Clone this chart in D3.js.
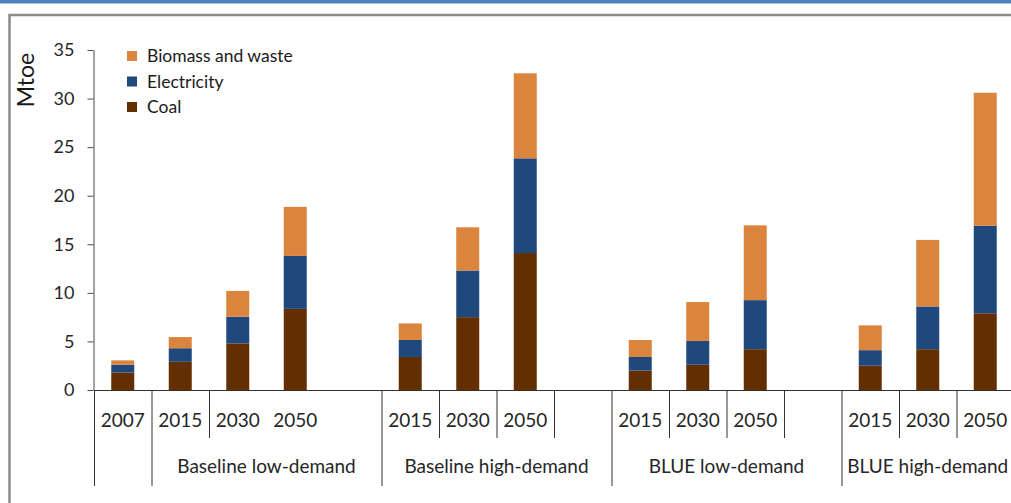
<!DOCTYPE html>
<html>
<head>
<meta charset="utf-8">
<script src="https://cdn.jsdelivr.net/npm/d3@7"></script>
<style>
  body { margin: 0; background: #fff; }
  svg { display: block; font-family: Lato, "Open Sans", sans-serif; }
</style>
</head>
<body>
<div id="chart"></div>
<script>
// one slot per column, blank slots separate the scenario groups
const slotYears = ["2007", "2015", "2030", "2050", "", "2015", "2030", "2050", "", "2015", "2030", "2050", "", "2015", "2030", "2050"];
const coal        = [1.8, 2.9, 4.8, 8.35, 0, 3.4, 7.5, 14.1, 0, 2.0, 2.6, 4.2, 0, 2.5, 4.2, 7.9];
const electricity = [0.8, 1.4, 2.75, 5.45, 0, 1.75, 4.8, 9.75, 0, 1.4, 2.45, 5.05, 0, 1.6, 4.4, 9.0];
const biomass     = [0.45, 1.15, 2.65, 5.05, 0, 1.7, 4.45, 8.75, 0, 1.75, 4.0, 7.7, 0, 2.55, 6.85, 13.7];

const seriesNames = ["Coal", "Electricity", "Biomass and waste"];
const seriesColors = ["#632f00", "#1f497d", "#db843d"];

const groupNames = ["", "Baseline low-demand", "Baseline high-demand", "BLUE low-demand", "BLUE high-demand"];
const groupStarts = [0, 1, 5, 9, 13];
const groupEnds = [1, 5, 9, 13, 16];
// inner boundaries that carry a short divider line
const shortDividers = [2, 6, 7, 8, 10, 11, 12, 14, 15];

const yTicks = [0, 5, 10, 15, 20, 25, 30, 35];

const svgWidth = 1011;
const svgHeight = 503;

const svg = d3.select("#chart").append("svg")
    .attr("width", svgWidth)
    .attr("height", svgHeight);

// page decorations: blue rule and grey frame
svg.append("rect")
    .attr("x", 0).attr("y", 0)
    .attr("width", svgWidth).attr("height", 3.5)
    .style("fill", "#4f81bd");
svg.append("path")
    .attr("d", "M" + svgWidth + ",15 L9.5,15 L9.5," + svgHeight)
    .style("fill", "none")
    .style("stroke", "#8c8c8c")
    .style("stroke-width", 2.5);

const x = d3.scaleBand()
    .domain(d3.range(slotYears.length))
    .range([94, 1014])
    .paddingInner(0.6)
    .paddingOuter(0.3);
const step = x.step();
const slotLeft = i => 94 + i * step;

const y = d3.scaleLinear()
    .domain([0, 35])
    .range([390, 50]);

// stacked data
const rows = slotYears.map((yr, i) => ({ i: i, "Coal": coal[i], "Electricity": electricity[i], "Biomass and waste": biomass[i] }));
const stacked = d3.stack().keys(seriesNames)(rows);

svg.append("g")
    .selectAll("g")
    .data(stacked)
    .enter()
    .append("g")
    .style("fill", (d, k) => seriesColors[k])
    .selectAll("rect")
    .data(d => d.filter(p => p[1] > p[0]))
    .enter()
    .append("rect")
    .attr("x", d => x(d.data.i))
    .attr("width", x.bandwidth())
    .attr("y", d => y(d[1]))
    .attr("height", d => y(d[0]) - y(d[1]));

// y axis
const yAxis = d3.axisLeft(y).tickValues(yTicks).tickSize(6).tickSizeOuter(0).tickPadding(13);
const gy = svg.append("g")
    .attr("transform", "translate(93.5,0)")
    .call(yAxis);
gy.select(".domain").style("stroke", "#4d4d4d");
gy.selectAll(".tick line").style("stroke", "#4d4d4d");
gy.selectAll(".tick text")
    .style("font-size", "18px")
    .style("fill", "#262626")
    .style("font-family", "Lato, sans-serif");

svg.append("text")
    .attr("transform", "translate(34,80) rotate(-90)")
    .attr("text-anchor", "middle")
    .style("font-size", "23px")
    .style("fill", "#1a1a1a")
    .text("Mtoe");

// x axis line
svg.append("line")
    .attr("x1", 94).attr("x2", svgWidth)
    .attr("y1", 390.5).attr("y2", 390.5)
    .style("stroke", "#333")
    .style("stroke-width", 1.2);

// group dividers (full height)
const fullDividers = groupStarts.concat([]);
svg.append("g")
    .selectAll("line")
    .data(fullDividers)
    .enter()
    .append("line")
    .attr("x1", d => slotLeft(d) + 0.5)
    .attr("x2", d => slotLeft(d) + 0.5)
    .attr("y1", 390)
    .attr("y2", 486)
    .style("stroke", "#333");

// short dividers between years
svg.append("g")
    .selectAll("line")
    .data(shortDividers)
    .enter()
    .append("line")
    .attr("x1", d => slotLeft(d) + 0.5)
    .attr("x2", d => slotLeft(d) + 0.5)
    .attr("y1", 390)
    .attr("y2", 438)
    .style("stroke", "#333");

// year labels
svg.append("g")
    .selectAll("text")
    .data(slotYears)
    .enter()
    .append("text")
    .attr("x", (d, i) => x(i) + x.bandwidth() / 2)
    .attr("y", 427)
    .attr("text-anchor", "middle")
    .style("font-size", "19px")
    .style("fill", "#262626")
    .text(d => d);

// group labels
svg.append("g")
    .selectAll("text")
    .data(groupNames)
    .enter()
    .append("text")
    .attr("x", (d, i) => (slotLeft(groupStarts[i]) + slotLeft(groupEnds[i])) / 2)
    .attr("y", 473)
    .attr("text-anchor", "middle")
    .style("font-size", "19px")
    .style("fill", "#262626")
    .text(d => d);

// legend, top entry is the top of the stack
const legendItems = seriesNames.slice().reverse();
const legendColors = seriesColors.slice().reverse();
const legend = svg.append("g")
    .selectAll("g")
    .data(legendItems)
    .enter()
    .append("g")
    .attr("transform", (d, i) => "translate(127," + (62 + i * 25.5) + ")");
legend.append("rect")
    .attr("x", 0).attr("y", -11)
    .attr("width", 10).attr("height", 10)
    .style("fill", (d, i) => legendColors[i]);
legend.append("text")
    .attr("x", 20)
    .attr("y", 0)
    .style("font-size", "17.5px")
    .style("fill", "#1a1a1a")
    .text(d => d);
</script>
</body>
</html>
